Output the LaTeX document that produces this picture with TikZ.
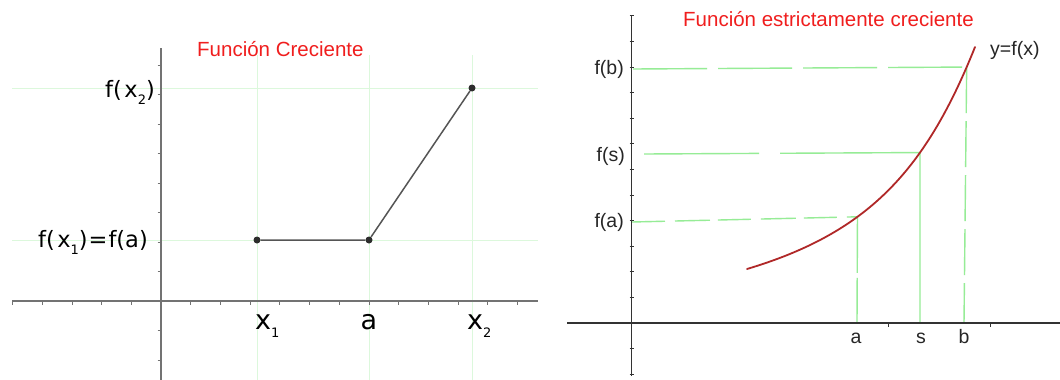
\documentclass[tikz,border=0pt]{standalone}
\usepackage{fontspec}
\setmainfont{Liberation Sans}
\newfontfamily\ggfont{DejaVu Sans}
\definecolor{gridpale}{RGB}{220,248,220}
\definecolor{guidegreen}{RGB}{150,236,150}
\definecolor{curvered}{RGB}{176,40,40}
\definecolor{titlered}{RGB}{240,30,30}
\definecolor{axisgray}{RGB}{115,115,115}
\definecolor{segray}{RGB}{85,85,85}
\definecolor{dotgray}{RGB}{45,45,45}
\newcommand\lowdig[1]{\raisebox{-0.32em}{\fontsize{13}{13}\selectfont #1}}
\begin{document}
\begin{tikzpicture}[x=1pt,y=-1pt,
  gridln/.style={draw=gridpale, line width=1pt},
  axisL/.style={draw=axisgray, line width=1.6pt},
  tickL/.style={draw=axisgray, line width=0.8pt},
  axisR/.style={draw=black!80, line width=1.3pt},
  tickR/.style={draw=black!80, line width=0.8pt},
  seg/.style={draw=segray, line width=1.5pt},
  dot/.style={circle, fill=dotgray, inner sep=0pt, minimum size=7pt},
  guide/.style={draw=guidegreen, line width=1.4pt},
  curve/.style={draw=curvered, line width=1.8pt, line cap=round},
  flbl/.style={inner sep=0pt, font=\ggfont\fontsize{22.5}{22.5}\selectfont},
  xlbl/.style={inner sep=0pt, font=\ggfont\fontsize{27}{27}\selectfont},
  rlbl/.style={inner sep=0pt, font=\fontsize{19.5}{19.5}\selectfont, text=black!85},
  ttl/.style={inner sep=0pt, font=\fontsize{20.5}{20.5}\selectfont, text=titlered}
]
\useasboundingbox (0,0) rectangle (1060,380);
\fill[white] (0,0) rectangle (1060,380);

% ---------------- left panel ----------------
% grid
\draw[gridln] (257,55) -- (257,380);
\draw[gridln] (369,55) -- (369,380);
\draw[gridln] (472,55) -- (472,380);
\draw[gridln] (12,88) -- (538,88);
\draw[gridln] (12,240) -- (538,240);
% axes
\draw[axisL] (12,301) -- (538,301);
\draw[axisL] (161,48) -- (161,380);
\foreach \k in {-5,...,-1,1,2,...,12} \draw[tickL] (161+29.7*\k,301) -- (161+29.7*\k,304.5);
\foreach \k in {-2,-1,1,2,...,8} \draw[tickL] (157.5,301-29.5*\k) -- (161,301-29.5*\k);
% graph
\node[dot] (p1) at (257,240) {};
\node[dot] (p2) at (369,240) {};
\node[dot] (p3) at (472,88) {};
\draw[seg] (p1) -- (p2) -- (p3);
% labels
\node[ttl, anchor=base west] (t1) at (197,56) {Función Creciente};
\node[flbl, anchor=base east] (lfx2) at (155,97.5) {f(\kern2.5pt x\lowdig{2})};
\node[flbl, anchor=base east] (lfx1) at (148,247) {f(\kern2.5pt x\lowdig{1})\kern1pt=\kern1pt f(a)};
\node[xlbl, anchor=base west] (lx1) at (255,329) {x\lowdig{1}};
\node[xlbl, anchor=base] (la) at (369,329) {a};
\node[xlbl, anchor=base west] (lx2) at (467,329) {x\lowdig{2}};

% ---------------- right panel ----------------
% curve y=f(x), with the points a, s, b on it
\path (747,269) .. controls (867,233) and (925,172) .. (975,47)
  coordinate[pos=0.37] (A) coordinate[pos=0.665] (S) coordinate[pos=0.945] (B);
\coordinate (Aa) at (857,323);
\coordinate (Ss) at (920,322);
\coordinate (Bb) at (964,323);
\coordinate (Ya) at (632,222);
\coordinate (Ys) at (644,154);
\coordinate (Yb) at (633,69);
% guides
\draw[guide, dash pattern=on 74pt off 11pt] (Yb) -- (B);
\draw[guide, dash pattern=on 115pt off 21pt on 300pt] (Ys) -- (S);
\draw[guide, dash pattern=on 33pt off 10pt on 35pt off 8pt] (Ya) -- (A);
\draw[guide, dash pattern=on 56pt off 5pt] (A) -- (Aa);
\draw[guide] (S) -- (Ss);
\draw[guide, dash pattern=on 46pt off 8pt] (B) -- (Bb);
% the curve, on top of the guides
\draw[curve] (747,269) .. controls (867,233) and (925,172) .. (975,47);
% axes
\draw[axisR] (567,323) -- (1060,323);
\draw[axisR] (631.5,15) -- (631.5,376);
\foreach \k in {-2,-1,1,2,...,12} \draw[tickR] (629.5,323-25.6*\k) -- (633.5,323-25.6*\k);
\draw[tickR] (888,323) -- (888,326.5);
\draw[tickR] (990,323) -- (990,326.5);
% labels
\node[ttl, anchor=base west] (t2) at (683,26.5) {Función estrictamente creciente};
\node[rlbl, anchor=base east] (lfb) at (624,74.5) {f(b)};
\node[rlbl, anchor=base east] (lfs) at (625,161) {f(s)};
\node[rlbl, anchor=base east] (lfa) at (624,227) {f(a)};
\node[rlbl, anchor=base] (ra) at (856,343) {a};
\node[rlbl, anchor=base] (rs) at (921,343) {s};
\node[rlbl, anchor=base] (rb) at (964,343) {b};
\node[rlbl, anchor=base west] (ly) at (990,55) {y=f(x)};
\end{tikzpicture}
\end{document}
